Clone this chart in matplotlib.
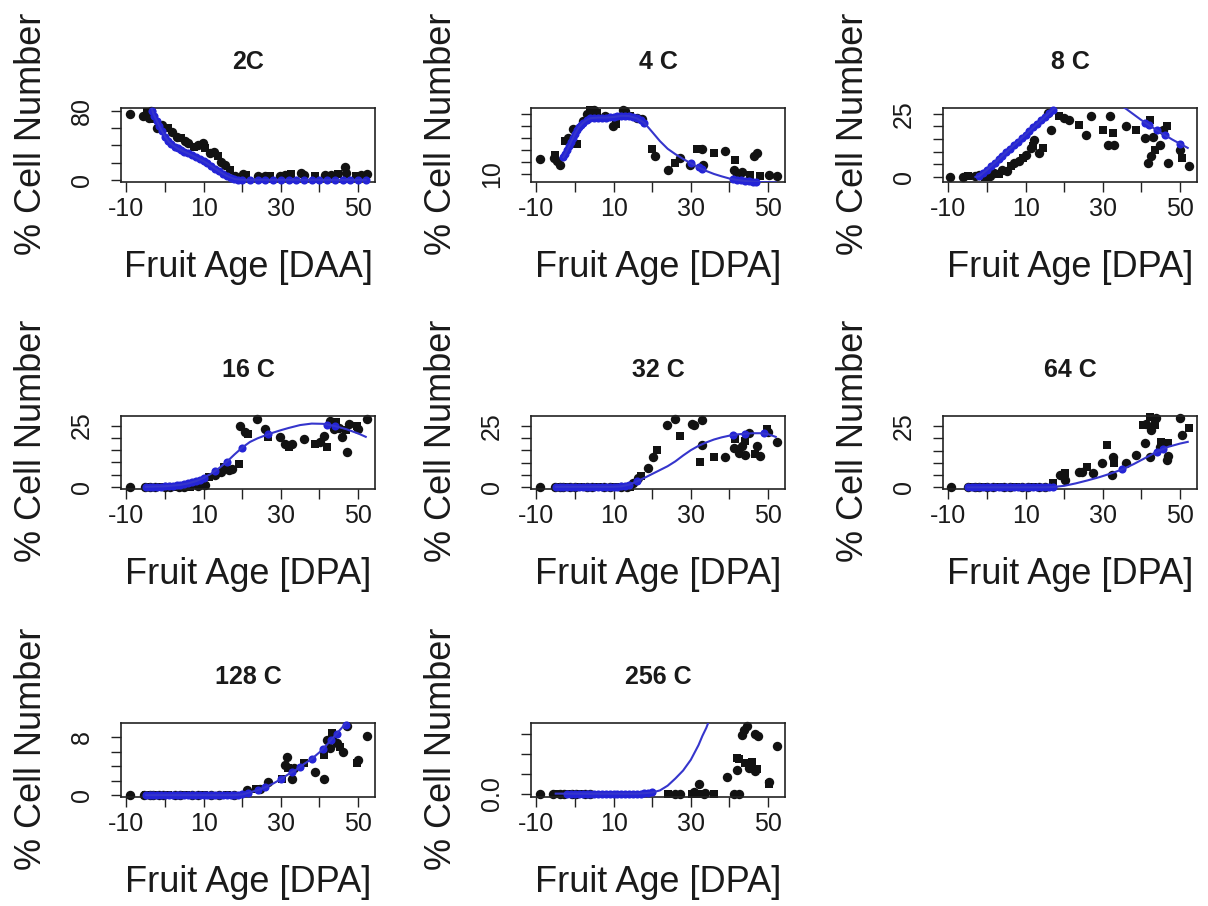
import matplotlib
matplotlib.use("Agg")
import matplotlib.pyplot as plt

plt.rcParams['font.family'] = 'Liberation Sans'

# ---- 2C ----
x_2c = [-9.1, -5.7, -4.6, -4.2, -3.6, -2.8, -2.2, -0.9, 0.8, 1.8, 3.0, 4.2, 5.2, 6.0, 7.6, 8.6, 9.9, 10.3,
        11.6, 12.6, 13.8, 14.6, 15.5, 16.8, 18.1, 20.2, 21.1, 24.1, 25.8, 27.1, 29.7, 31.0, 32.7, 35.3,
        36.1, 38.8, 41.4, 43.1, 44.8, 46.6, 47.0, 49.6, 50.9, 52.2]
y_2c = [76, 74, 78, 71, 79, 70, 60, 63, 60, 55, 50, 48, 45, 42, 38.5, 40, 42, 36.6,
        30.8, 32, 27, 21, 17.3, 11.5, 5, 7, 6, 3.9, 3.9, 4.6, 5, 5.8, 6.2, 7.7,
        5.8, 5, 5.8, 5.8, 6.4, 15.4, 7.7, 4.6, 5.8, 6.4]
fit_x_2c = [-3.6, -3, -2, -1, 0, 1, 2, 3, 4, 6, 8, 10, 12, 14, 16, 18, 20, 30, 40, 52]
fit_y_2c = [85, 76, 67, 58, 50, 44, 40, 37, 34.5, 30.5, 26, 21.5, 16, 10, 4.5, 1, 0, 0, 0, 0]
dot_x_2c = [-3.3, -2.8, -2.2, -1.5, -0.8, 0, 0.8, 1.6, 2.5, 3.3, 4.2, 5, 6, 7, 8, 9, 10, 11, 12, 13, 14,
            15, 16, 17, 18, 19, 20, 22, 24, 26, 28, 30, 32, 34, 36, 38, 40, 42, 44, 46, 48, 50, 52]
dot_y_2c = [80, 74, 68, 62, 56, 50, 45, 41.5, 38.5, 36.5, 34, 32.5, 30.5, 28.3, 26, 24, 21.5, 19, 16, 13, 10,
            7, 4.5, 2.5, 1, 0.3, 0, 0, 0, 0, 0, 0, 0, 0, 0, 0, 0, 0, 0, 0, 0, 0, 0]

# ---- 4C ----
x_4c = [-9.1, -5.5, -5.2, -4.6, -3.9, -2.6, -1.8, -0.5, 0.4, 2.1, 3.0, 3.9, 4.3, 5.0, 5.6, 7.7, 9.9, 10.7,
        12.4, 12.9, 14.2, 16.0, 17.3, 19.9, 20.7, 24.2, 25.9, 27.2, 29.8, 31.6, 32.9, 33.2, 35.9, 38.9,
        41.2, 41.5, 42.0, 43.2, 45.4, 46.3, 47.1, 48.0, 50.2, 52.3]
y_4c = [22.6, 23, 26.2, 21.2, 17.8, 37.4, 40.2, 47.2, 34.6, 54.2, 59.8, 63.5, 62.6, 63.5, 61, 58.4, 50, 51.4,
        63.5, 62.6, 58.4, 57, 55.6, 30.4, 24.8, 13.6, 19.2, 23.4, 17.8, 30.4, 30.4, 17.8, 27.6, 29,
        13.6, 22, 9.4, 11.9, 9.4, 24.8, 27.6, 8, 9.4, 8]
fit_x_4c = [-3, -2, -1, 0, 1, 2, 3, 4, 6, 8, 10, 12, 14, 16, 18, 20, 22, 24, 26, 28, 30, 32, 34, 36, 38,
            40, 42, 44, 46, 48, 52]
fit_y_4c = [24, 30, 37, 43.5, 49, 52.5, 55, 56.5, 57, 57, 57.5, 58.5, 58.3, 56.5, 52.5, 45, 37.4, 31, 26.5,
            22.5, 19, 15.5, 12.5, 10, 8, 6.2, 5, 4.2, 3.6, 3.3, 3.0]
dot_x_4c = [-3, -2.5, -2, -1.5, -1, -0.5, 0, 0.5, 1, 1.5, 2, 3, 4, 5, 6, 7, 8, 9, 10, 11, 12, 13, 14, 15,
            16, 17, 18, 30, 32, 33, 41, 42, 43, 44, 45, 46, 47]
dot_y_4c = [24, 27, 30, 33.5, 37, 40, 43.5, 46.3, 49, 51, 52.5, 55, 56.5, 57, 57, 57, 57, 57.2, 57.5, 58,
            58.5, 58.4, 58.3, 57.5, 56.5, 54.7, 52.5, 19, 15.5, 14, 5.6, 5, 4.6, 4.2, 3.9, 3.6, 3.5]

# ---- 8C ----
x_8c = [-9.6, -6.1, -4.8, -3.0, -2.2, -0.4, 0.9, 1.8, 3.1, 3.9, 5.2, 6.1, 7.0, 8.3, 9.2, 10.1, 11.3, 11.9,
        12.2, 13.5, 14.4, 15.7, 16.6, 18.7, 20.0, 21.3, 23.9, 25.7, 27.0, 30.0, 31.3, 31.8, 32.6, 33.0,
        36.1, 38.7, 40.9, 41.8, 42.2, 42.6, 43.1, 43.5, 44.8, 45.7, 46.6, 47.0, 50.1, 50.5, 52.2]
y_8c = [0, 0, 0.2, 0.2, 0.9, 0, 0.3, 1.6, 1, 2.9, 2.5, 4.2, 5.5, 6.2, 7.5, 8.8, 11.5, 12.3,
        14.7, 9.5, 11.5, 25.3, 18.7, 24, 23.3, 22.6, 20.7, 16.7, 24, 18.7, 12.8, 24, 17.4, 12.8,
        20, 18.7, 15.4, 5.5, 22.6, 8.1, 16, 10.8, 12.8, 18.7, 20, 5.5, 10.8, 7.5, 4.2]
fit_x_8c = [-3, -2, 0, 2, 4, 6, 8, 10, 12, 14, 16, 18, 20, 24, 28, 32, 36, 40, 44, 48, 52]
fit_y_8c = [0, 0.3, 2.8, 5.6, 8.4, 11.2, 14, 16.8, 19.6, 22.4, 25.2, 28, 30.5, 33.5, 33, 30.5, 27, 22.5,
            18.5, 14.8, 11.5]
dot_x_8c = [-2, -1, 0, 1, 2, 3, 4, 5, 6, 7, 8, 9, 10, 11, 12, 13, 14, 15, 16, 17, 41, 42, 44, 46, 50]
dot_y_8c = [0.3, 1.5, 2.8, 4.2, 5.6, 7, 8.4, 9.8, 11.2, 12.6, 14, 15.4, 16.8, 18.2, 19.6, 21, 22.4, 23.8,
            25.2, 26.6, 21.4, 20.5, 18.5, 16.6, 13.2]

# ---- 16C ----
x_16c = [-9.0, -5.1, -4.4, -3.8, -2.5, -1.3, 0.1, 1.4, 2.6, 3.7, 4.8, 6.5, 8.6, 10.4, 11.3, 13.0, 14.4,
         15.2, 16.5, 17.3, 19.1, 19.5, 20.8, 21.6, 23.8, 26.0, 26.8, 29.8, 31.1, 32.0, 32.8, 35.9, 38.9,
         40.2, 41.1, 42.0, 42.8, 43.7, 44.2, 45.0, 45.9, 46.8, 47.1, 47.6, 49.7, 50.1, 52.3]
y_16c = [0, 0, 0, 0, 0, 0, 0, 0, 0, 0, 0, 0, 0.3, 0.7, 4, 4.7, 6.1,
         8.1, 6.8, 7.4, 9.5, 25, 22.3, 21.4, 27.7, 23.6, 20.2, 20.2, 17.6, 16.2, 17.6, 19.6, 17.6,
         18.2, 20.9, 16.2, 27, 23.6, 26.4, 24, 20.2, 23, 14.2, 25.6, 25, 23.6, 27.7]
fit_x_16c = [-5, 0, 4, 6, 8, 10, 12, 14, 16, 18, 20, 22, 24, 26, 28, 30, 32, 35, 38, 41, 44, 47, 50, 52]
fit_y_16c = [0, 0.2, 0.8, 1.4, 2.3, 3.6, 5.4, 7.6, 10.2, 13.2, 16, 18.3, 19.8, 21, 22.1, 23.1, 24, 25.2,
             25.8, 25.7, 24.8, 23.5, 21.8, 20.4]
dot_x_16c = [-5, -4, -3, -2, -1, 0, 1, 2, 3, 4, 5, 6, 7, 8, 9, 10, 13, 16, 20, 26.8, 42, 44]
dot_y_16c = [0, 0, 0, 0.1, 0.1, 0.2, 0.3, 0.4, 0.6, 0.8, 1.1, 1.4, 1.8, 2.3, 2.9, 3.6, 6.5, 10.2, 16,
             21.4, 25.2, 24.8]

# ---- 32C ----
x_32c = [-9.1, -5.2, -4.5, -3.9, -3.0, -2.6, -1.3, 0.0, 1.5, 3.0, 4.5, 6.0, 7.5, 9.0, 10.5, 12.0, 13.4,
         14.2, 15.1, 16.4, 17.2, 19.0, 20.3, 21.2, 23.8, 25.9, 27.2, 30.3, 30.9, 32.3, 32.9, 32.9, 35.9,
         38.9, 41.1, 41.5, 42.4, 43.2, 44.1, 44.1, 45.0, 46.7, 47.2, 48.0, 49.7, 50.1, 52.3]
y_32c = [0, 0, 0, 0, 0, 0, 0, 0, 0, 0, 0, 0, 0, 0, 0, 0, 0,
         0, 1.6, 3.5, 4.5, 7.6, 12.3, 15.1, 25.4, 28.1, 20.9, 26.1, 25.4, 10.3, 27.7, 17.2, 12.3,
         12.1, 15.8, 19.9, 13.8, 17, 19, 13.2, 22, 13.7, 17, 12.5, 24, 22.5, 18.5]
fit_x_32c = [-5, 0, 5, 10, 12, 14, 16, 18, 20, 22, 24, 26, 28, 30, 32, 34, 36, 38, 40, 42, 44, 46, 48,
             50, 52]
fit_y_32c = [0, 0, 0, 0, 0.2, 0.9, 2.2, 3.7, 5.3, 6.9, 8.5, 10.5, 12.9, 15.1, 16.9, 18.3, 19.5, 20.4,
             21.1, 21.6, 21.9, 22.1, 22.1, 21.7, 20.6]
dot_x_32c = [-5, -4, -3, -2, -1, 0, 1, 2, 3, 4, 5, 6, 7, 8, 9, 10, 11, 12, 13, 14, 16, 41, 44, 49]
dot_y_32c = [0, 0, 0, 0, 0, 0, 0, 0, 0, 0, 0, 0, 0, 0, 0, 0, 0, 0.2, 0.5, 0.9, 2.2, 21.3, 21.9, 22]

# ---- 64C ----
x_64c = [-9.3, -5.0, -4.0, -3.0, -2.0, -1.0, 0.0, 1.5, 3.0, 4.5, 6.0, 7.5, 9.0, 10.5, 12.0, 13.5, 15.0,
         17.1, 19.0, 20.1, 20.3, 23.8, 24.6, 26.0, 27.4, 29.9, 31.2, 32.5, 32.6, 33.0, 36.1, 38.7, 40.5,
         40.9, 41.3, 42.2, 42.2, 42.6, 43.5, 43.9, 44.8, 45.2, 46.6, 47.0, 47.0, 50.0, 50.4, 52.2]
y_64c = [0, 0, 0, 0, 0, 0, 0, 0, 0, 0, 0, 0, 0, 0, 0, 0, 0,
         1.6, 5, 3, 5.7, 6.4, 6.4, 8.4, 5.7, 9.8, 17.3, 5, 12.5, 9.8, 9.8, 13.2, 25.4,
         18, 26, 28.8, 12.5, 23.4, 25.4, 28.2, 16.6, 18.4, 11.1, 12.8, 18, 28.2, 21.3, 24.1]
fit_x_64c = [-5, 0, 10, 15, 17, 20, 23, 26, 29, 32, 35, 38, 41, 44, 47, 50, 52]
fit_y_64c = [0, 0, 0, 0, 0.1, 0.6, 1.6, 2.8, 4.1, 5.6, 7.3, 9.5, 12, 14.6, 16.6, 17.9, 18.6]
dot_x_64c = [-5, -4, -3, -2, -1, 0, 1, 2, 3, 4, 5, 6, 7, 8, 9, 10, 11, 12, 13, 14, 15, 16, 17, 35, 44, 45.5]
dot_y_64c = [0, 0, 0, 0, 0, 0, 0, 0, 0, 0, 0, 0, 0, 0, 0, 0, 0, 0, 0, 0, 0, 0, 0.1, 7.3, 14.6, 15.6]

# ---- 128C ----
x_128c = [-9.0, -5.5, -4.8, -4.0, -3.2, -2.5, -1.5, -0.5, 0.9, 2.5, 4.0, 5.5, 7.0, 8.5, 10.0, 12.0, 14.0,
          16.0, 18.0, 21.2, 23.5, 24.7, 26.8, 30.3, 31.2, 31.6, 31.9, 33.0, 33.3, 35.9, 38.9, 41.1, 41.1,
          41.9, 42.8, 43.2, 43.2, 44.5, 45.3, 46.2, 47.1, 49.7, 50.1, 52.3]
y_128c = [0, 0, 0, 0, 0, 0, 0, 0, 0, 0, 0, 0, 0, 0, 0, 0, 0,
          0, 0, 0.7, 0.9, 0.9, 1.8, 2.3, 4.2, 5.3, 3.7, 2.3, 3.7, 4.4, 3.2, 2.3, 5.6,
          7.6, 6.5, 8.6, 8, 7.2, 6.7, 6, 9.5, 4.4, 4.9, 8.1]
fit_x_128c = [-5, 0, 10, 18, 20, 22, 24, 26, 28, 30, 32, 34, 36, 38, 40, 42, 44, 46, 48]
fit_y_128c = [0, 0, 0, 0, 0.1, 0.4, 0.7, 1.1, 1.6, 2.2, 2.9, 3.5, 4.3, 5, 5.9, 7, 8.2, 9.4, 10.6]
dot_x_128c = [-5, -4, -3, -2, -1, 0, 1, 2, 3, 4, 5, 6, 7, 8, 9, 10, 11, 12, 13, 14, 15, 16, 17, 18, 19, 20,
              21.5, 24, 26, 30, 33, 35, 38, 41, 43, 44.5, 47]
dot_y_128c = [0, 0, 0, 0, 0, 0, 0, 0, 0, 0, 0, 0, 0, 0, 0, 0, 0, 0, 0, 0, 0, 0, 0, 0, 0, 0.1,
              0.3, 0.7, 1.1, 2.2, 3.2, 3.9, 5, 6.4, 7.6, 8.5, 9.7]

# ---- 256C ----
x_256c = [-9.1, -5.7, -4.8, -3.8, -2.8, -1.8, -0.8, 0.3, 1.5, 2.7, 3.8, 24.2, 25.9, 27.2, 30.3, 30.7,
          32.0, 32.4, 33.3, 33.7, 35.9, 39.4, 41.1, 42.0, 42.0, 42.4, 42.6, 43.3, 43.7, 44.1, 44.5, 45.0,
          45.8, 46.7, 46.7, 47.1, 47.5, 50.2, 50.2, 52.3]
y_256c = [0, 0, 0, 0, 0, 0, 0, 0, 0, 0, 0, 0, 0, 0, 0, 0.05,
          0.23, 0, 0, 0.02, 0, 0.42, 0, 0.9, 0.6, 0, 0.87, 1.48, 1.6, 0.78, 1.69, 0.65,
          0.8, 0.57, 1.5, 0.62, 1.45, 0.28, 0.25, 1.19]
fit_x_256c = [-5, 0, 10, 16, 18, 20, 22, 24, 26, 28, 30, 32, 33, 34, 35]
fit_y_256c = [0, 0, 0, 0, 0.01, 0.03, 0.08, 0.2, 0.38, 0.58, 0.85, 1.22, 1.45, 1.65, 1.9]
dot_x_256c = [-2, -1, 0, 1, 2, 3, 4, 5, 6, 7, 8, 9, 10, 11, 12, 13, 14, 15, 16, 17, 18, 19, 20]
dot_y_256c = [0, 0, 0, 0, 0, 0, 0, 0, 0, 0, 0, 0, 0, 0, 0, 0, 0, 0, 0, 0, 0.01, 0.02, 0.03]

titles = ['2C', '4 C', '8 C', '16 C', '32 C', '64 C', '128 C', '256 C']
xlabels = ['Fruit Age [DAA]'] + ['Fruit Age [DPA]'] * 7

xticks = [-10, 0, 10, 20, 30, 40, 50]
xticklabels = ['-10', '', '10', '', '30', '', '50']

panels = [
    (x_2c, y_2c, fit_x_2c, fit_y_2c, dot_x_2c, dot_y_2c,
     (-2.5, 83), [0, 20, 40, 60, 80], ['0', '', '', '', '80']),
    (x_4c, y_4c, fit_x_4c, fit_y_4c, dot_x_4c, dot_y_4c,
     (3.3, 65), [10, 20, 30, 40, 50, 60], ['10', '', '', '', '', '']),
    (x_8c, y_8c, fit_x_8c, fit_y_8c, dot_x_8c, dot_y_8c,
     (-2, 27.3), [0, 5, 10, 15, 20, 25], ['0', '', '', '', '', '25']),
    (x_16c, y_16c, fit_x_16c, fit_y_16c, dot_x_16c, dot_y_16c,
     (-0.7, 28.9), [0, 5, 10, 15, 20, 25], ['0', '', '', '', '', '25']),
    (x_32c, y_32c, fit_x_32c, fit_y_32c, dot_x_32c, dot_y_32c,
     (-0.7, 29.2), [0, 5, 10, 15, 20, 25], ['0', '', '', '', '', '25']),
    (x_64c, y_64c, fit_x_64c, fit_y_64c, dot_x_64c, dot_y_64c,
     (-0.5, 29.2), [0, 5, 10, 15, 20, 25], ['0', '', '', '', '', '25']),
    (x_128c, y_128c, fit_x_128c, fit_y_128c, dot_x_128c, dot_y_128c,
     (-0.25, 9.95), [0, 2, 4, 6, 8], ['0', '', '', '', '8']),
    (x_256c, y_256c, fit_x_256c, fit_y_256c, dot_x_256c, dot_y_256c,
     (-0.085, 1.775), [0, 0.5, 1.0, 1.5], ['0.0', '', '', '']),
]

W, H = 1208, 906
fig = plt.figure(figsize=(W / 100, H / 100), dpi=100)
fig.patch.set_facecolor('white')

# plot boxes in pixels: left edges per column, (top, height) per row
col_left = [121, 531, 943]
box_w = 254
rows = [(108, 74), (416, 72.5), (723, 74)]

markers = ['o', 'o', 's']
msize = {'o': 46, 's': 38}
ink = '#121212'
line_blue = '#3535cc'
dot_blue = '#2424d6'

for i, (x, y, fx, fy, dx, dy, ylim, yt, ytl) in enumerate(panels):
    top, h = rows[i // 3]
    left = col_left[i % 3]
    ax = fig.add_axes([left / W, 1 - (top + h) / H, box_w / W, h / H])

    for k, m in enumerate(markers):
        ax.scatter(x[k::3], y[k::3], marker=m, s=msize[m], c=ink, linewidths=0,
                   clip_on=False, zorder=2)
    ax.scatter(dx, dy, marker='o', s=34, c=dot_blue, linewidths=0, clip_on=False, zorder=3)
    ax.plot(fx, fy, color=line_blue, lw=1.5, zorder=4)

    ax.set_xlim(-11.4, 54.4)
    ax.set_ylim(*ylim)
    ax.set_xticks(xticks)
    ax.set_xticklabels(xticklabels)
    ax.set_yticks(yt)
    ax.set_yticklabels(ytl, rotation=90, va='center')
    ax.tick_params(direction='out', length=7.5, width=1.0, labelsize=18,
                   color='#222222', labelcolor='#1a1a1a')
    ax.tick_params(axis='x', pad=3.5)
    ax.tick_params(axis='y', pad=12)
    for sp in ax.spines.values():
        sp.set_color('#222222')
        sp.set_linewidth(1.2)

    ax.annotate(titles[i], xy=(0.5, 1), xycoords='axes fraction', xytext=(0, 28),
                textcoords='offset points', ha='center', va='baseline',
                fontsize=18, fontweight='bold', color='#1a1a1a')
    ax.annotate(xlabels[i], xy=(0.5, 0), xycoords='axes fraction', xytext=(0, -68.4),
                textcoords='offset points', ha='center', va='baseline',
                fontsize=26, color='#1a1a1a')
    ax.annotate('% Cell Number', xy=(0, 0.5), xycoords='axes fraction', xytext=(-57.6, 7.9),
                textcoords='offset points', rotation=90, rotation_mode='anchor',
                ha='center', va='baseline', fontsize=26, color='#1a1a1a')

fig.savefig('out.png', dpi=100, facecolor='white')
